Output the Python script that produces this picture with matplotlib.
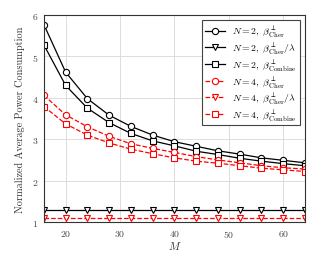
import matplotlib
matplotlib.use("Agg")
import matplotlib.pyplot as plt

plt.rcParams['font.family'] = 'serif'
plt.rcParams['font.serif'] = ['cmr10', 'DejaVu Serif']
plt.rcParams['mathtext.fontset'] = 'cm'
plt.rcParams['axes.formatter.use_mathtext'] = True

M = [16, 20, 24, 28, 32, 36, 40, 44, 48, 52, 56, 60, 64]
n2_cher = [5.77, 4.62, 3.98, 3.58, 3.31, 3.10, 2.94, 2.83, 2.72, 2.64, 2.55, 2.49, 2.43]
n2_cher_lam = [1.30] * 13
n2_comb = [5.28, 4.30, 3.75, 3.40, 3.14, 2.96, 2.84, 2.71, 2.63, 2.54, 2.47, 2.41, 2.36]
n4_cher = [4.06, 3.59, 3.30, 3.07, 2.89, 2.78, 2.68, 2.58, 2.50, 2.43, 2.36, 2.31, 2.28]
n4_cher_lam = [1.10] * 13
n4_comb = [3.79, 3.37, 3.10, 2.91, 2.76, 2.65, 2.55, 2.47, 2.42, 2.36, 2.30, 2.26, 2.22]

labels = [r'$N=2,\ \beta^{\perp}_{\mathrm{Cher}}$',
          r'$N=2,\ \beta^{\perp}_{\mathrm{Cher}}/\lambda$',
          r'$N=2,\ \beta^{\perp}_{\mathrm{Combine}}$',
          r'$N=4,\ \beta^{\perp}_{\mathrm{Cher}}$',
          r'$N=4,\ \beta^{\perp}_{\mathrm{Cher}}/\lambda$',
          r'$N=4,\ \beta^{\perp}_{\mathrm{Combine}}$']

fig = plt.figure(figsize=(3.18, 2.55), dpi=100)
ax = fig.add_axes([0.138, 0.1255, 0.821, 0.8115])

series = [(n2_cher, 'o', 'black', '-'), (n2_cher_lam, 'v', 'black', '-'),
          (n2_comb, 's', 'black', '-'), (n4_cher, 'o', 'red', '--'),
          (n4_cher_lam, 'v', 'red', '--'), (n4_comb, 's', 'red', '--')]
for (vals, mk, c, ls), lab in zip(series, labels):
    ax.plot(M, vals, linestyle=ls, marker=mk, color=c, markerfacecolor='white',
            markersize=4.5, linewidth=0.9, markeredgewidth=0.8, label=lab)

ax.set_xlim(16, 64)
ax.set_ylim(1, 6)
ax.set_xticks([20, 30, 40, 50, 60])
ax.set_yticks([1, 2, 3, 4, 5, 6])
ax.grid(True, color='#dddddd', linewidth=0.7)
ax.tick_params(labelsize=7, length=0, pad=4, labelcolor='#444444')
for s in ax.spines.values():
    s.set_color('#333333')
    s.set_linewidth(0.8)
ax.set_xlabel(r'$M$', fontsize=8, labelpad=0, color='#333333')
ax.set_ylabel('Normalized Average Power Consumption', fontsize=7.4, labelpad=5,
              color='#333333')

leg = ax.legend(loc='upper right', fontsize=7, fancybox=False, edgecolor='#444444',
                framealpha=1, handlelength=2.0, borderpad=0.35, labelspacing=0.22,
                handletextpad=0.7, borderaxespad=0.55)
leg.get_frame().set_linewidth(0.8)

fig.savefig('out.png', dpi=100)
